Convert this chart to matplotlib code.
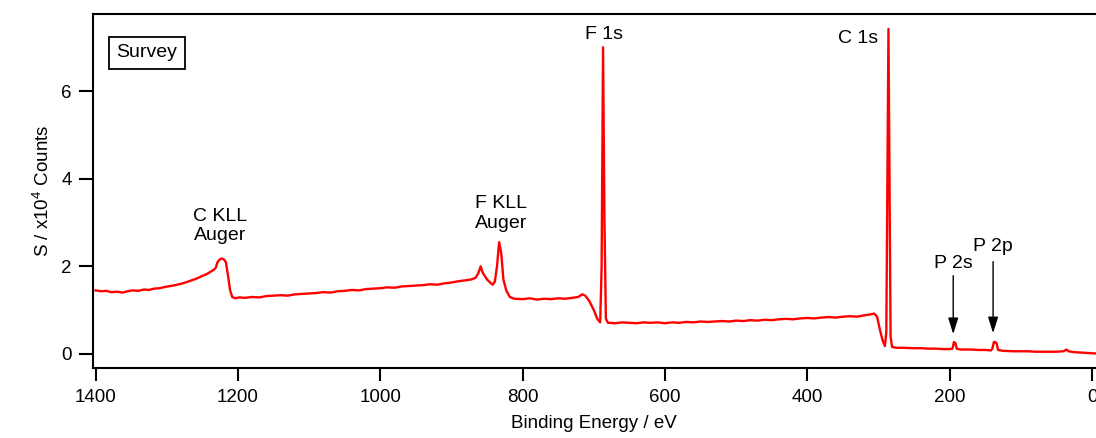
import matplotlib
matplotlib.use("Agg")
import matplotlib.pyplot as plt

plt.rcParams['font.family'] = ['Liberation Sans', 'DejaVu Sans']
plt.rcParams['mathtext.fontset'] = 'custom'
plt.rcParams['mathtext.rm'] = 'Liberation Sans'

# binding energy (eV) and signal (x10^4 counts)
energy = [1400, 1392, 1385, 1378, 1370, 1362, 1355, 1348, 1340, 1332, 1325, 1318,
          1310, 1302, 1295, 1288, 1280, 1272, 1265, 1258, 1250, 1244, 1238, 1234,
          1231, 1229, 1226, 1223, 1220, 1217, 1214, 1211, 1208, 1204, 1198, 1190,
          1180, 1170, 1160, 1150, 1140, 1130, 1120, 1110, 1100, 1090, 1080, 1070,
          1060, 1050, 1040, 1030, 1020, 1010, 1000, 990, 980, 970, 960, 950, 940,
          930, 920, 910, 900, 890, 880, 872, 866, 862, 859, 856, 850, 845, 842,
          839, 836, 833, 830, 827, 823, 818, 812, 800, 790, 780, 770, 760, 750,
          740, 730, 722, 716, 712, 706, 700, 695, 691, 689, 687, 685, 683, 680,
          670, 660, 650, 640, 630, 620, 610, 600, 590, 580, 570, 560, 550, 540,
          530, 520, 510, 500, 490, 480, 470, 460, 450, 440, 430, 420, 410, 400,
          390, 380, 370, 360, 350, 340, 330, 320, 312, 306, 302, 298, 294, 291,
          289, 287, 286, 285, 283, 281, 275, 265, 250, 240, 230, 220, 210, 200,
          196, 194, 192, 190, 185, 170, 160, 150, 142, 140, 138, 136, 134, 132,
          125, 110, 100, 90, 80, 70, 60, 50, 40, 36, 33, 25, 15, 5, -5]
signal = [1.45, 1.43, 1.44, 1.41, 1.42, 1.40, 1.43, 1.45, 1.44, 1.47, 1.46, 1.49,
          1.50, 1.53, 1.55, 1.57, 1.60, 1.64, 1.68, 1.72, 1.78, 1.82, 1.88, 1.92,
          1.97, 2.08, 2.15, 2.18, 2.16, 2.10, 1.80, 1.45, 1.30, 1.27, 1.29, 1.28,
          1.30, 1.29, 1.32, 1.33, 1.34, 1.33, 1.36, 1.37, 1.38, 1.39, 1.41, 1.40,
          1.43, 1.44, 1.46, 1.45, 1.48, 1.49, 1.50, 1.52, 1.51, 1.54, 1.55, 1.56, 1.57,
          1.59, 1.58, 1.61, 1.63, 1.66, 1.68, 1.70, 1.74, 1.85, 2.00, 1.85, 1.70, 1.62, 1.58,
          1.65, 2.00, 2.55, 2.30, 1.70, 1.45, 1.30, 1.26, 1.25, 1.27, 1.24, 1.26, 1.25, 1.27,
          1.26, 1.28, 1.30, 1.36, 1.33, 1.20, 1.00, 0.80, 0.72, 2.00, 7.00, 3.00, 0.80, 0.71,
          0.70, 0.72, 0.71, 0.70, 0.72, 0.71, 0.72, 0.70, 0.72, 0.71, 0.73, 0.72, 0.74, 0.73,
          0.74, 0.75, 0.74, 0.76, 0.75, 0.77, 0.76, 0.78, 0.77, 0.79, 0.80, 0.79, 0.81, 0.82,
          0.81, 0.83, 0.84, 0.83, 0.85, 0.86, 0.85, 0.88, 0.90, 0.92, 0.85, 0.55, 0.30, 0.18,
          0.50, 5.00, 7.42, 5.00, 0.40, 0.16, 0.14, 0.14, 0.13, 0.13, 0.12, 0.12, 0.11, 0.11,
          0.12, 0.27, 0.25, 0.12, 0.10, 0.10, 0.09, 0.09, 0.08, 0.12, 0.27, 0.27, 0.24, 0.09,
          0.07, 0.06, 0.06, 0.06, 0.05, 0.05, 0.05, 0.05, 0.06, 0.10, 0.06, 0.04, 0.03, 0.02, 0.01]

x_ticks = [1400, 1200, 1000, 800, 600, 400, 200, 0]
y_ticks = [0, 2, 4, 6]

fig = plt.figure(figsize=(10.96, 4.38), dpi=100)
ax = fig.add_axes([0.0846, 0.160, 0.9154, 0.808])
ax.plot(energy, signal, color='#ff0000', lw=1.7)

ax.set_xlim(1404, -5.6)
ax.set_ylim(-0.32, 7.76)
ax.set_xticks(x_ticks)
ax.set_yticks(y_ticks)
ax.spines['right'].set_visible(False)
for s in ['left', 'bottom', 'top']:
    ax.spines[s].set_linewidth(1.5)
ax.tick_params(axis='both', direction='out', width=1.5, labelsize=13.5)
ax.tick_params(axis='x', length=9, pad=6)
ax.tick_params(axis='y', length=10, pad=5)

ax.set_xlabel('Binding Energy / eV', fontsize=13.5, labelpad=7)
ax.set_ylabel('S / x10$^{\\mathrm{4}}$ Counts', fontsize=13.5, labelpad=6)

ax.text(0.054, 0.89, 'Survey', transform=ax.transAxes, fontsize=14, ha='center', va='center',
        bbox=dict(boxstyle='square,pad=0.4', fc='white', ec='black', lw=1.3))

lab = dict(fontsize=14, ha='center', va='center')
ax.text(686, 7.30, 'F 1s', **lab)
ax.text(329, 7.20, 'C 1s', **lab)
ax.text(1225, 2.92, 'C KLL\nAuger', linespacing=1.2, **lab)
ax.text(830, 3.2, 'F KLL\nAuger', linespacing=1.2, **lab)
ax.text(195, 2.06, 'P 2s', **lab)
ax.text(139, 2.45, 'P 2p', **lab)

arrow = dict(arrowstyle='-|>,head_length=0.7,head_width=0.22', color='black', lw=1.0, mutation_scale=14)
ax.annotate('', xy=(195, 0.39), xytext=(195, 1.85), arrowprops=arrow)
ax.annotate('', xy=(139, 0.41), xytext=(139, 2.17), arrowprops=arrow)

fig.savefig('out.png', dpi=100)
